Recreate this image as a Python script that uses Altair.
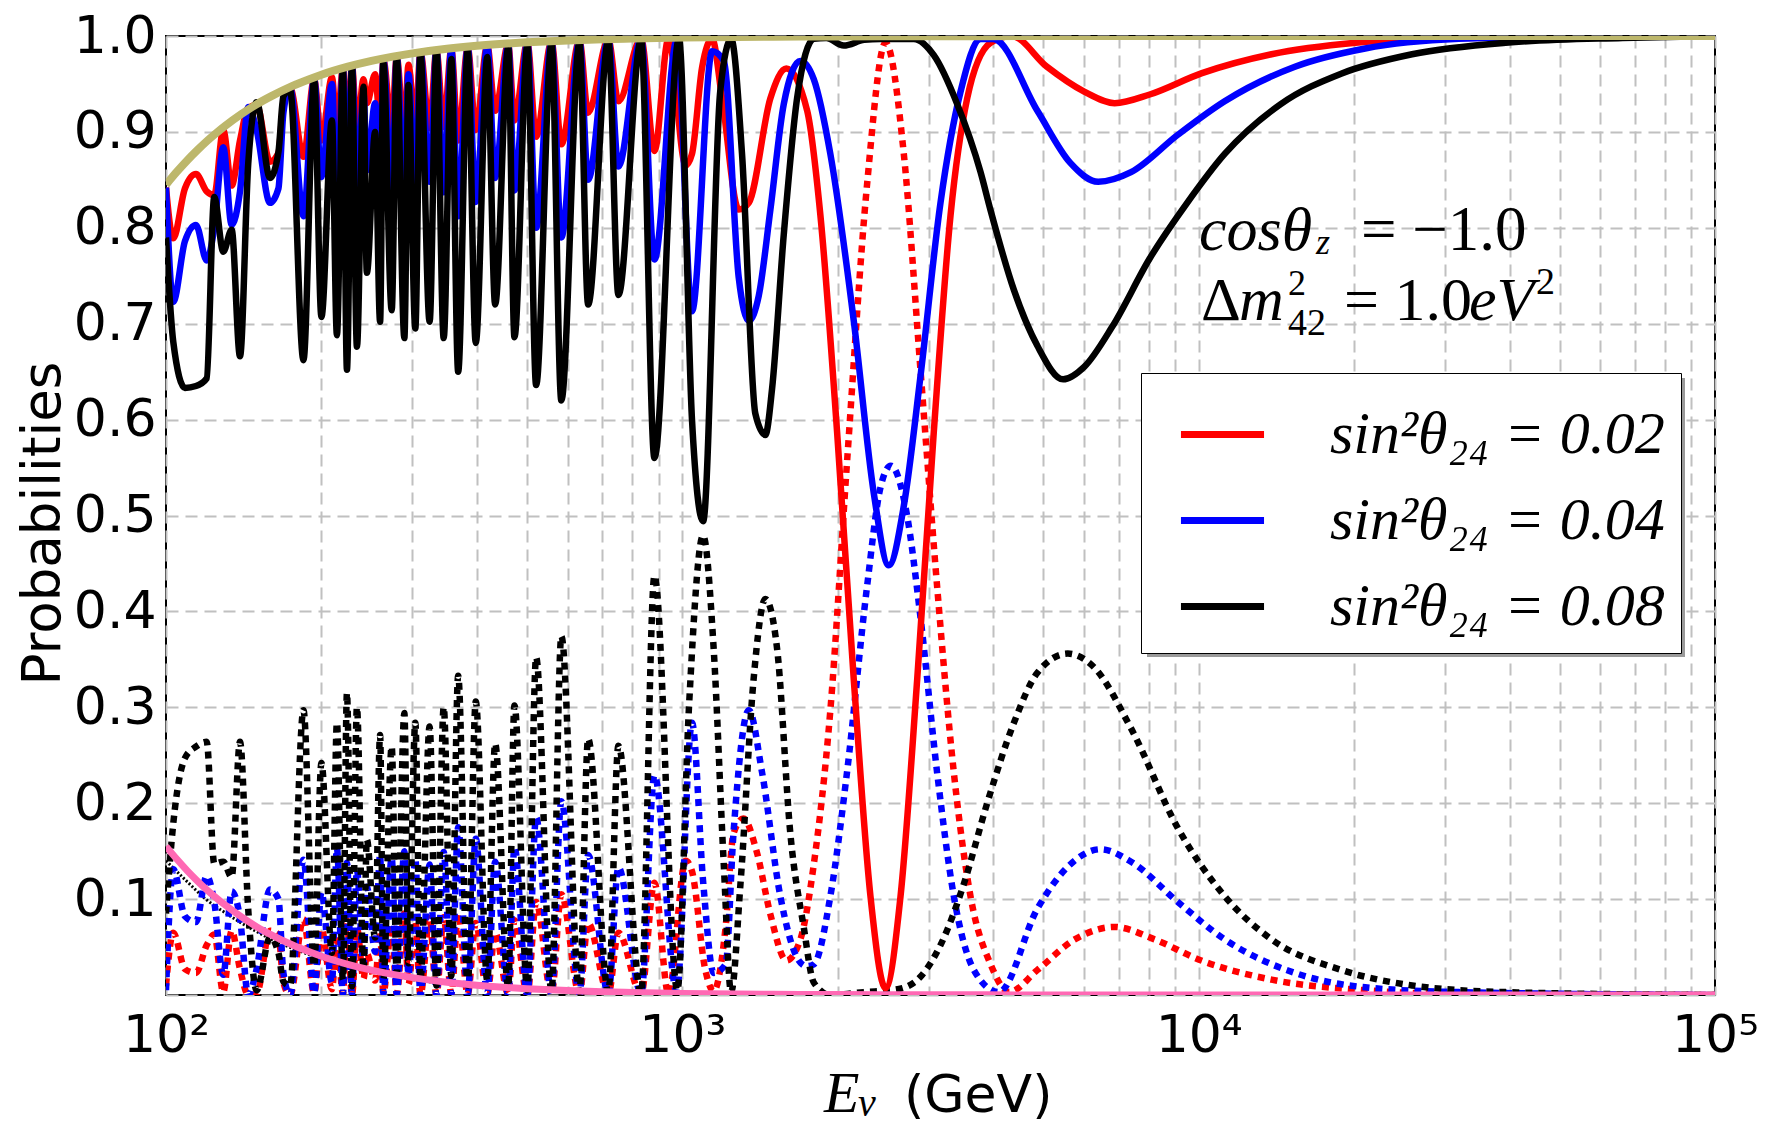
import altair as alt
import pandas as pd

# ---------------- data ----------------
E_LOW = [100, 103.3, 108.8, 114.3, 119.9, 124, 129.1, 134, 139.1, 144.3,
         149.8, 159, 165.1, 168.8, 173.9, 184.6, 193.6, 200, 209.6, 214.3,
         220.1, 224.1, 229.2, 234.3, 241.3, 244.9, 254.1, 259.8, 263.6, 273.6,
         279.8, 289.5, 294.8, 304, 311, 324, 334, 345, 357, 368,
         384, 398, 419, 434, 460, 473, 501, 521, 558, 583,
         632, 657, 719, 752, 832, 883]

BLACK_SOLID_LOW = [0.79, 0.681, 0.633, 0.635, 0.643, 0.832, 0.775, 0.798, 0.666, 0.867,
                   0.931, 0.852, 0.879, 0.937, 0.944, 0.662, 0.954, 0.707, 0.912, 0.688,
                   0.965, 0.652, 0.968, 0.676, 0.947, 0.753, 0.900, 0.702, 0.972, 0.714,
                   0.977, 0.685, 0.949, 0.695, 0.982, 0.702, 0.985, 0.685, 0.976, 0.650,
                   0.985, 0.680, 0.978, 0.720, 0.988, 0.686, 0.990, 0.636, 0.992, 0.620,
                   0.993, 0.720, 0.995, 0.730, 0.996, 0.560]
RED_SOLID_LOW = [0.842, 0.789, 0.841, 0.856, 0.838, 0.834, 0.902, 0.844, 0.891, 0.925,
                 0.928, 0.869, 0.878, 0.930, 0.946, 0.874, 0.955, 0.891, 0.957, 0.902,
                 0.966, 0.890, 0.969, 0.900, 0.955, 0.930, 0.960, 0.910, 0.975, 0.905,
                 0.978, 0.895, 0.970, 0.905, 0.983, 0.904, 0.985, 0.905, 0.986, 0.891,
                 0.988, 0.902, 0.990, 0.922, 0.991, 0.912, 0.993, 0.895, 0.994, 0.887,
                 0.995, 0.920, 0.996, 0.932, 0.997, 0.880]
BLUE_SOLID_LOW = [0.842, 0.723, 0.786, 0.803, 0.766, 0.800, 0.884, 0.803, 0.838, 0.926,
                  0.902, 0.826, 0.841, 0.920, 0.946, 0.812, 0.955, 0.853, 0.950, 0.812,
                  0.966, 0.830, 0.968, 0.840, 0.940, 0.860, 0.930, 0.830, 0.975, 0.835,
                  0.978, 0.830, 0.960, 0.840, 0.983, 0.848, 0.985, 0.837, 0.986, 0.812,
                  0.988, 0.827, 0.990, 0.852, 0.991, 0.839, 0.993, 0.800, 0.994, 0.790,
                  0.995, 0.850, 0.996, 0.864, 0.997, 0.767]
BLACK_DOTTED_LOW = [0.085, 0.179, 0.247, 0.259, 0.264, 0.137, 0.139, 0.123, 0.264, 0.089,
                    0.005, 0.060, 0.044, 0.014, 0.010, 0.297, 0.030, 0.242, 0.044, 0.284,
                    0.016, 0.315, 0.009, 0.300, 0.026, 0.162, 0.060, 0.271, 0.016, 0.259,
                    0.023, 0.294, 0.033, 0.284, 0.016, 0.280, 0.010, 0.300, 0.020, 0.333,
                    0.010, 0.306, 0.015, 0.262, 0.008, 0.302, 0.005, 0.352, 0.004, 0.374,
                    0.003, 0.267, 0.003, 0.260, 0.002, 0.437]
RED_DOTTED_LOW = [0.010, 0.065, 0.027, 0.023, 0.052, 0.063, 0.003, 0.067, 0.027, 0.000,
                  0.001, 0.067, 0.063, 0.013, 0.000, 0.079, 0.002, 0.069, 0.006, 0.063,
                  0.001, 0.078, 0.000, 0.070, 0.017, 0.043, 0.015, 0.066, 0.002, 0.073,
                  0.001, 0.085, 0.011, 0.077, 0.000, 0.080, 0.000, 0.081, 0.001, 0.085,
                  0.001, 0.075, 0.001, 0.065, 0.001, 0.078, 0.000, 0.097, 0.001, 0.105,
                  0.001, 0.075, 0.001, 0.065, 0.001, 0.117]
BLUE_DOTTED_LOW = [0.005, 0.131, 0.082, 0.076, 0.124, 0.097, 0.021, 0.108, 0.080, 0.000,
                   0.027, 0.110, 0.100, 0.023, 0.000, 0.141, 0.002, 0.107, 0.013, 0.153,
                   0.001, 0.138, 0.001, 0.130, 0.032, 0.113, 0.045, 0.146, 0.002, 0.143,
                   0.001, 0.150, 0.021, 0.142, 0.000, 0.136, 0.000, 0.149, 0.001, 0.175,
                   0.001, 0.163, 0.001, 0.139, 0.001, 0.154, 0.000, 0.185, 0.001, 0.202,
                   0.001, 0.146, 0.001, 0.133, 0.001, 0.229]

RED_SOLID_HIGH_E = [940, 1015, 1044, 1092, 1142, 1194, 1286, 1345, 1481, 1590, 1745, 1851,
                    1994, 2148, 2314, 2475, 2646, 2850, 3069, 3307, 3562, 3954, 4341, 5080,
                    6002, 6874, 8038, 10115, 13839, 20150, 31900, 100000]
RED_SOLID_HIGH_P = [0.997, 0.865, 0.877, 0.967, 0.997, 0.935, 0.819, 0.826, 0.935, 0.966, 0.922, 0.813,
                    0.587, 0.329, 0.103, 0.007, 0.103, 0.329, 0.587, 0.813, 0.935, 0.993, 1.0, 0.968,
                    0.942, 0.930, 0.939, 0.961, 0.981, 0.993, 0.998, 1.0]
BLUE_SOLID_HIGH_E = [975, 1044, 1142, 1203, 1286, 1345, 1406, 1481, 1572, 1693, 1797, 1935,
                     2148, 2349, 2511, 2685, 2892, 3162, 3458, 3781, 4000, 4871, 5636, 6389,
                     7396, 9114, 11230, 15360, 21010, 31900, 59600, 100000]
BLUE_SOLID_HIGH_P = [0.995, 0.713, 0.984, 0.974, 0.748, 0.703, 0.729, 0.819, 0.929, 0.974, 0.955, 0.877,
                     0.703, 0.523, 0.448, 0.510, 0.645, 0.826, 0.942, 0.997, 0.997, 0.922, 0.868, 0.848,
                     0.858, 0.897, 0.932, 0.968, 0.987, 0.997, 1.0, 1.0]
BLACK_SOLID_HIGH_E = [985, 1044, 1097, 1184, 1243, 1305, 1385, 1448, 1492, 1572, 1668, 1797,
                      1900, 2054, 2250, 2419, 2807, 3069, 3407, 3781, 3950, 4388, 4871, 5464,
                      6002, 6804, 8038, 9500, 11230, 14420, 18930, 25900, 39300, 66250, 100000]
BLACK_SOLID_HIGH_P = [0.997, 0.600, 0.494, 0.942, 0.997, 0.877, 0.606, 0.584, 0.632, 0.793, 0.935, 0.997,
                      0.998, 0.990, 0.996, 0.997, 0.997, 0.980, 0.929, 0.858, 0.819, 0.735, 0.677, 0.642,
                      0.655, 0.697, 0.768, 0.826, 0.877, 0.929, 0.961, 0.981, 0.993, 0.998, 1.0]

RED_DOTTED_HIGH_E = [940, 1015, 1044, 1108, 1150, 1213, 1256, 1313, 1394, 1481, 1590, 1693,
                     1797, 1935, 2084, 2279, 2475, 2685, 2892, 3115, 3356, 3615, 3954, 4296,
                     4871, 5754, 6874, 8211, 10115, 13839, 21010, 31900, 100000]
RED_DOTTED_HIGH_P = [0.001, 0.140, 0.129, 0.026, 0.004, 0.071, 0.168, 0.184, 0.149, 0.084, 0.036, 0.058,
                     0.136, 0.297, 0.555, 0.845, 0.993, 0.877, 0.652, 0.426, 0.232, 0.103, 0.032, 0.003,
                     0.026, 0.058, 0.071, 0.058, 0.036, 0.016, 0.005, 0.001, 0.0]
BLUE_DOTTED_HIGH_E = [975, 1044, 1098, 1150, 1213, 1256, 1345, 1427, 1548, 1668, 1740, 1797,
                      1935, 2084, 2279, 2419, 2534, 2718, 2892, 3115, 3356, 3670, 4100, 4871,
                      5636, 6458, 7396, 9114, 11230, 15360, 21010, 31900, 100000]
BLUE_DOTTED_HIGH_P = [0.004, 0.284, 0.116, 0.023, 0.032, 0.168, 0.297, 0.232, 0.103, 0.039, 0.030, 0.032,
                      0.103, 0.232, 0.426, 0.529, 0.552, 0.503, 0.394, 0.232, 0.103, 0.026, 0.003, 0.090,
                      0.136, 0.152, 0.139, 0.097, 0.058, 0.023, 0.008, 0.003, 0.0]
BLACK_DOTTED_HIGH_E = [978, 1030, 1097, 1150, 1203, 1243, 1296, 1374, 1448, 1526, 1619, 1718,
                       1797, 1935, 2245, 2611, 2892, 3162, 3510, 3894, 4388, 4871, 5579, 6265,
                       7396, 9114, 11230, 13839, 18930, 25900, 39300, 100000]
BLACK_DOTTED_HIGH_P = [0.005, 0.300, 0.479, 0.361, 0.136, 0.003, 0.116, 0.329, 0.413, 0.361, 0.168, 0.071,
                       0.013, 0.000, 0.003, 0.006, 0.019, 0.052, 0.116, 0.200, 0.284, 0.336, 0.356, 0.342,
                       0.278, 0.174, 0.103, 0.058, 0.026, 0.010, 0.003, 0.0]

# standard (no sterile) curves
E_STD = [100, 105, 110, 115, 120, 125, 130, 140, 150, 160, 175, 190, 200, 225, 250, 275,
         300, 350, 400, 450, 500, 600, 700, 800, 1000, 1500, 2000, 3000, 5000, 10000, 100000]
KHAKI_P = [0.845, 0.8585, 0.8705, 0.881, 0.8904, 0.8986, 0.906, 0.9186, 0.929, 0.9373, 0.9474,
           0.9552, 0.9596, 0.968, 0.974, 0.9785, 0.9819, 0.9867, 0.9898, 0.9919, 0.9934, 0.9954,
           0.9967, 0.9974, 0.9984, 0.9993, 0.9996, 0.9998, 0.9999, 1.0, 1.0]
PINK_P = [0.155, 0.1415, 0.1295, 0.119, 0.1096, 0.1014, 0.094, 0.0814, 0.071, 0.0627, 0.0526,
          0.0448, 0.0404, 0.032, 0.026, 0.0215, 0.0181, 0.0133, 0.0102, 0.0081, 0.0066, 0.0046,
          0.0033, 0.0026, 0.0016, 0.0007, 0.0004, 0.0002, 0.0001, 0.0, 0.0]

# thin hatched black line hugging the pink curve at low energy
THIN_E = [100, 110, 120, 130, 140, 150, 160, 175, 190, 200, 225, 250, 275, 300, 350, 400, 500]
THIN_P = [0.140, 0.118, 0.099, 0.086, 0.075, 0.066, 0.058, 0.049, 0.042, 0.038, 0.030,
          0.024, 0.020, 0.016, 0.012, 0.009, 0.005]

LABELS = ["sin²θ₂₄ = 0.02", "sin²θ₂₄ = 0.04", "sin²θ₂₄ = 0.08"]
COLORS = ["#ff0000", "#0000ff", "#000000"]

X_TICKS = [100, 200, 300, 400, 500, 600, 700, 800, 900,
           1000, 2000, 3000, 4000, 5000, 6000, 7000, 8000, 9000,
           10000, 20000, 30000, 40000, 50000, 60000, 70000, 80000, 90000, 100000]
Y_TICKS = [0.0, 0.1, 0.2, 0.3, 0.4, 0.5, 0.6, 0.7, 0.8, 0.9, 1.0]

# ---------------- tables ----------------
def rows(label, e_low, p_low, e_high, p_high, color):
    out = []
    for e, p in zip(e_low, p_low):
        out.append({"E": e, "P": p, "series": label, "col": color})
    for e, p in zip(e_high, p_high):
        out.append({"E": e, "P": p, "series": label, "col": color})
    return out

solid_df = pd.DataFrame(
    rows(LABELS[0], E_LOW, RED_SOLID_LOW, RED_SOLID_HIGH_E, RED_SOLID_HIGH_P, COLORS[0])
    + rows(LABELS[1], E_LOW, BLUE_SOLID_LOW, BLUE_SOLID_HIGH_E, BLUE_SOLID_HIGH_P, COLORS[1])
    + rows(LABELS[2], E_LOW, BLACK_SOLID_LOW, BLACK_SOLID_HIGH_E, BLACK_SOLID_HIGH_P, COLORS[2])
)
dotted_df = pd.DataFrame(
    rows(LABELS[0], E_LOW, RED_DOTTED_LOW, RED_DOTTED_HIGH_E, RED_DOTTED_HIGH_P, COLORS[0])
    + rows(LABELS[1], E_LOW, BLUE_DOTTED_LOW, BLUE_DOTTED_HIGH_E, BLUE_DOTTED_HIGH_P, COLORS[1])
    + rows(LABELS[2], E_LOW, BLACK_DOTTED_LOW, BLACK_DOTTED_HIGH_E, BLACK_DOTTED_HIGH_P, COLORS[2])
)
khaki_df = pd.DataFrame({"E": E_STD, "P": KHAKI_P})
pink_df = pd.DataFrame({"E": E_STD, "P": PINK_P})
thin_df = pd.DataFrame({"E": THIN_E, "P": THIN_P})

# ---------------- encodings ----------------
label_expr = ("datum.value == 100 ? '10²' : datum.value == 1000 ? '10³' : "
              "datum.value == 10000 ? '10⁴' : datum.value == 100000 ? '10⁵' : ''")

X = alt.X("E:Q",
          scale=alt.Scale(type="log", domain=[100, 100000], nice=False),
          axis=alt.Axis(values=X_TICKS, labelExpr=label_expr, title="",
                        grid=True, ticks=False, domain=False,
                        labelFont="DejaVu Sans", labelFontSize=52, labelColor="black",
                        labelPadding=15, labelFlush=False, labelOverlap=False))
Y = alt.Y("P:Q",
          scale=alt.Scale(domain=[0, 1], nice=False, zero=False),
          axis=alt.Axis(values=Y_TICKS,
                        labelExpr="datum.value < 0.05 ? '' : format(datum.value, '.1f')",
                        title="Probabilities", titleFont="DejaVu Sans", titleFontSize=53,
                        titleFontWeight="normal", titleColor="black", titleAngle=270,
                        titleX=-107, titleY=487, titleBaseline="alphabetic", titleAlign="center",
                        grid=True, ticks=False, domain=False,
                        labelFont="DejaVu Sans", labelFontSize=52, labelColor="black",
                        labelPadding=10, labelOverlap=False))

thin = alt.Chart(thin_df).mark_line(
    color="black", strokeWidth=3, strokeDash=[2, 2], interpolate="monotone", clip=True
).encode(x=X, y=Y)

dotted = alt.Chart(dotted_df).mark_line(
    strokeWidth=6.5, strokeDash=[7, 6], interpolate="monotone", clip=True
).encode(x=X, y=Y, color=alt.Color("col:N", scale=None), detail="series:N")

solid = alt.Chart(solid_df).mark_line(
    strokeWidth=6.5, interpolate="monotone", clip=True
).encode(
    x=X, y=Y,
    color=alt.Color("series:N",
                    scale=alt.Scale(domain=LABELS, range=COLORS),
                    legend=alt.Legend(title=None, orient="none", legendX=975, legendY=337,
                                      direction="vertical", fillColor="white",
                                      strokeColor="black", padding=16,
                                      symbolType="stroke", symbolSize=6900,
                                      symbolStrokeWidth=7, symbolOffset=20,
                                      labelFont="Liberation Serif", labelFontStyle="italic",
                                      labelFontSize=60, labelColor="black", labelOffset=62,
                                      labelLimit=800, rowPadding=10))
)

pink = alt.Chart(pink_df).mark_line(
    color="#ff69b4", strokeWidth=7, interpolate="monotone", clip=True
).encode(x=X, y=Y)
khaki = alt.Chart(khaki_df).mark_line(
    color="#bdb76b", strokeWidth=8, interpolate="monotone", clip=True
).encode(x=X, y=Y)

# legend shadow (matplotlib legend shadow=True)
shadow = alt.Chart(pd.DataFrame({"a": [0]})).mark_rect(color="#9a9a9a").encode(
    x=alt.value(981), x2=alt.value(1519), y=alt.value(342), y2=alt.value(621))

# ---------------- text pieces (annotation and x title) ----------------
def txt(s, x, y, size, italic=True, font="Liberation Serif"):
    return alt.Chart(pd.DataFrame({"t": [s]})).mark_text(
        align="left", baseline="alphabetic", font=font, fontSize=size,
        fontStyle="italic" if italic else "normal", color="black"
    ).encode(x=alt.value(x), y=alt.value(y), text="t:N")

texts = [
    txt("cosθ", 1033, 214, 62),
    txt("z", 1150, 218, 36),
    txt("= −1.0", 1195, 214, 63, italic=False),
    txt("Δ", 1035, 284, 62, italic=False),
    txt("m", 1073, 284, 62),
    txt("2", 1122, 259, 36, italic=False),
    txt("42", 1122, 299, 38, italic=False),
    txt("= 1.0", 1178, 284, 62, italic=False),
    txt("eV", 1303, 284, 62),
    txt("2", 1370, 258, 38, italic=False),
    txt("E", 658, 1076, 58),
    txt("ν", 692, 1080, 40),
    txt("(GeV)", 738, 1076, 52, italic=False, font="DejaVu Sans"),
]

chart = alt.layer(thin, dotted, solid, pink, khaki, shadow, *texts).properties(
    width=1549, height=959,
    autosize=alt.AutoSizeParams(type="none"),
    padding={"left": 158, "top": 28, "right": 45, "bottom": 130},
    background="white",
).configure_view(
    stroke="black", strokeWidth=2
).configure_axis(
    gridColor="#c0c0c0", gridDash=[12, 7], gridWidth=2, gridOpacity=1
)

chart.save("out.html", embed_options={"renderer": "svg", "actions": False})
